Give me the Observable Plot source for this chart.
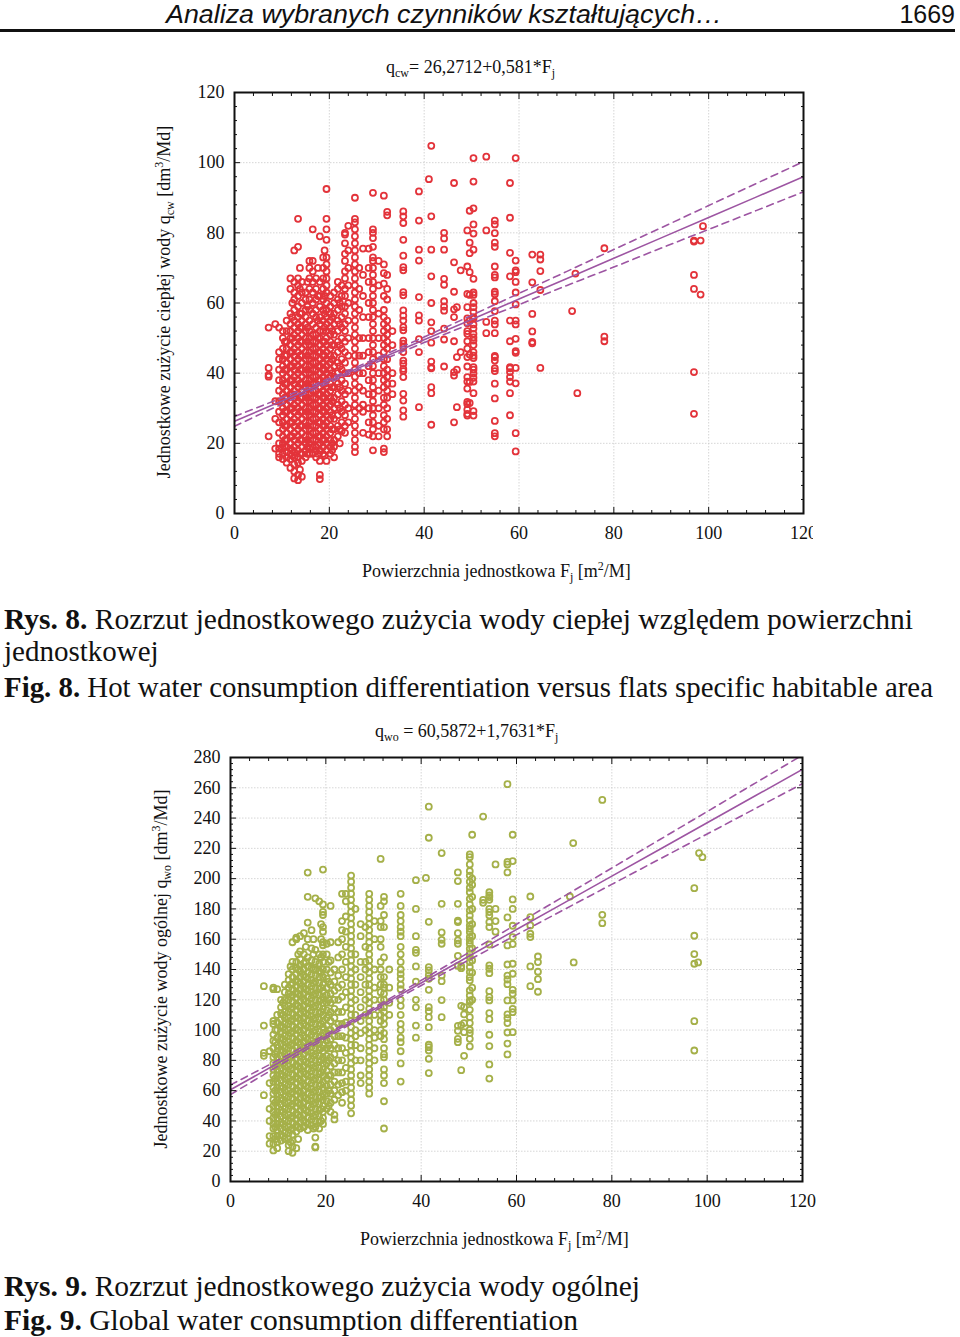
<!DOCTYPE html>
<html>
<head>
<meta charset="utf-8">
<script src="https://cdn.jsdelivr.net/npm/d3@7"></script>
<script src="https://cdn.jsdelivr.net/npm/@observablehq/plot@0.6"></script>
<style>
  html, body { margin: 0; padding: 0; background: #fff; }
  #page { position: relative; width: 960px; height: 1337px; overflow: hidden; background: #fff; }
  .chart { position: absolute; left: 0; }
  #overlay { position: absolute; left: 0; top: 0; pointer-events: none; }
  .serif { font-family: "Liberation Serif", "Times New Roman", serif; fill: #111; }
</style>
</head>
<body>
<div id="page">
  <div id="c1" class="chart" style="top:80px"></div>
  <div id="c2" class="chart" style="top:745px"></div>
  <svg id="overlay" width="960" height="1337" xmlns="http://www.w3.org/2000/svg">
    <text x="166" y="23" font-family="Liberation Sans, Arial, sans-serif" font-style="italic" font-size="25" fill="#111" textLength="556" lengthAdjust="spacingAndGlyphs">Analiza wybranych czynników kształtujących…</text>
    <text x="955" y="23" text-anchor="end" font-family="Liberation Sans, Arial, sans-serif" font-size="25" fill="#111">1669</text>
    <rect x="0" y="29" width="955" height="3" fill="#111"></rect>

    <text class="serif" x="386" y="73" font-size="18">q<tspan dy="4" font-size="12">cw</tspan><tspan dy="-4">= 26,2712+0,581*F</tspan><tspan dy="4" font-size="12">j</tspan></text>
    <text class="serif" x="362" y="577" font-size="18">Powierzchnia jednostkowa F<tspan dy="4" font-size="12">j</tspan><tspan dy="-4"> [m</tspan><tspan dy="-7" font-size="12">2</tspan><tspan dy="7">/M]</tspan></text>
    <text class="serif" transform="translate(170,302) rotate(-90)" text-anchor="middle" font-size="18">Jednostkowe zużycie ciepłej wody q<tspan dy="4" font-size="12">cw</tspan><tspan dy="-4"> [dm</tspan><tspan dy="-7" font-size="12">3</tspan><tspan dy="7">/Md]</tspan></text>

    <text class="serif" x="4" y="629" font-size="29" textLength="909" lengthAdjust="spacingAndGlyphs"><tspan font-weight="bold">Rys. 8.</tspan> Rozrzut jednostkowego zużycia wody ciepłej względem powierzchni</text>
    <text class="serif" x="4" y="661" font-size="29">jednostkowej</text>
    <text class="serif" x="4" y="697" font-size="29" textLength="929" lengthAdjust="spacingAndGlyphs"><tspan font-weight="bold">Fig. 8.</tspan> Hot water consumption differentiation versus flats specific habitable area</text>

    <text class="serif" x="375" y="737" font-size="18">q<tspan dy="4" font-size="12">wo</tspan><tspan dy="-4"> = 60,5872+1,7631*F</tspan><tspan dy="4" font-size="12">j</tspan></text>
    <text class="serif" x="360" y="1245" font-size="18">Powierzchnia jednostkowa F<tspan dy="4" font-size="12">j</tspan><tspan dy="-4"> [m</tspan><tspan dy="-7" font-size="12">2</tspan><tspan dy="7">/M]</tspan></text>
    <text class="serif" transform="translate(167,969) rotate(-90)" text-anchor="middle" font-size="18">Jednostkowe zużycie wody ogólnej q<tspan dy="4" font-size="12">wo</tspan><tspan dy="-4"> [dm</tspan><tspan dy="-7" font-size="12">3</tspan><tspan dy="7">/Md]</tspan></text>

    <text class="serif" x="4" y="1296" font-size="29" textLength="636" lengthAdjust="spacingAndGlyphs"><tspan font-weight="bold">Rys. 9.</tspan> Rozrzut jednostkowego zużycia wody ogólnej</text>
    <text class="serif" x="4" y="1330" font-size="29" textLength="574" lengthAdjust="spacingAndGlyphs"><tspan font-weight="bold">Fig. 9.</tspan> Global water consumption differentiation</text>
  </svg>
</div>
<script>
// ---------- Data: Fig. 8 (hot water) ----------
const hotF = [7.2, 8.6, 9.4, 10.2, 11.0, 11.8, 12.6, 13.4, 14.2, 15.0, 15.8, 16.5, 17.2, 18.0, 18.7, 19.4, 20.2, 21.0, 21.8, 22.6, 23.3, 24.0, 25.4, 26.3, 27.1, 28.3, 29.2, 30.4, 31.5, 32.2, 33.3, 35.6, 38.9, 41.0, 41.5, 44.2, 46.3, 46.9, 47.7, 49.1, 49.6, 50.4, 53.1, 54.9, 58.1, 59.3, 62.8, 64.5, 71.2, 71.9, 72.3, 78.0, 96.9, 98.3, 98.8,
  10.6, 12.2, 13.8, 15.4, 17.6, 19.0, 20.6, 22.2];
const hotQ = [
  [53, 41.5, 39.5, 39, 22],
  [54, 32, 27, 18.5],
  [53, 46, 44, 41, 38, 35, 32, 29, 26, 23, 20, 18.5, 17, 16],
  [52, 50, 47, 44, 42, 40, 38, 36, 34, 32, 30, 28, 26, 24, 22, 20, 18.5, 17, 15.5],
  [55, 52, 49, 47, 45, 43, 41, 39, 37, 35, 33, 31, 29, 27, 25, 23, 21, 19, 17.5, 16, 14.5],
  [67, 64, 57, 54, 52, 50, 48, 46, 44, 42, 40, 38, 36, 34, 32, 30, 28, 26, 24, 22, 20, 18.5, 17, 15.5, 13],
  [75, 66, 63, 61, 58, 55, 53, 51, 49, 47, 45, 43, 41, 39, 37, 35, 33, 31, 29, 27, 25, 23, 21, 19, 17.5, 16, 14, 12, 10],
  [84, 76, 67, 65, 62, 59, 56, 54, 52, 50, 48, 46, 44, 42, 40, 38, 36, 34, 32, 30, 28, 26, 24, 22, 20, 18, 16, 14.5, 11, 9.5],
  [66, 63, 60, 57, 55, 53, 51, 49, 47, 45, 43, 41, 39, 37, 35, 33, 31, 29, 27, 25, 23, 21, 19, 17, 15, 10.5],
  [63, 61, 58, 56, 54, 52, 50, 48, 46, 44, 42, 40, 38, 36, 34, 32, 30, 28, 26, 24, 22, 20, 18, 16],
  [72, 70, 67, 64, 61, 58, 55, 52, 50, 48, 46, 44, 42, 40, 38, 36, 34, 32, 30, 28, 26, 24, 22, 20, 18.5, 17],
  [81, 72, 69, 66, 63, 60, 57, 54, 51, 49, 47, 45, 43, 41, 39, 37, 35, 33, 31, 29, 27, 25, 23, 21, 19, 17],
  [67, 64, 61, 58, 56, 53, 51, 49, 47, 45, 43, 41, 39, 37, 35, 33, 31, 29, 27, 25, 23, 21, 19, 18, 16],
  [79, 66, 62, 59, 56, 54, 52, 50, 48, 46, 44, 42, 40, 38, 36, 34, 32, 30, 28, 26, 24, 22, 20, 18, 15, 11, 9.8],
  [73, 70, 67, 64, 61, 58, 55, 52, 49, 47, 45, 43, 41, 39, 37, 35, 33, 31, 29, 27, 25, 23, 21, 19, 17],
  [92.5, 84, 81, 78, 73, 71, 69, 67, 65, 63, 60, 58, 56, 54, 52, 50, 48, 46, 44, 42, 40, 38, 36, 34, 32, 30, 28, 26, 24, 22, 20, 18, 15],
  [62, 59, 57, 55, 53, 51, 49, 47, 45, 43, 41, 39, 37, 35, 33, 31, 29, 27, 25, 23, 21, 19, 17],
  [63, 60, 57, 54, 51, 48, 45, 42, 39, 36, 33, 30, 27, 24, 21, 19, 16],
  [66, 64, 61, 58, 55, 52, 49, 46, 43, 40, 37, 34, 31, 28, 25, 22],
  [65, 62, 59, 56, 53, 50, 47, 44, 41, 38, 35, 32, 29, 26, 23.5],
  [80, 79.5, 77, 74, 72, 69, 67, 64, 62, 59, 57, 54, 52, 49, 46, 43, 40, 37, 34, 31, 28, 25, 23],
  [82, 75, 70, 65, 60, 55, 50, 45, 40, 35, 30, 26],
  [90, 84, 83, 81, 79, 77, 75, 73, 71, 69, 67, 65, 63, 61, 59, 57, 55, 53, 51, 49, 47, 45, 43, 41, 39, 37, 35, 33, 31, 29, 27, 25, 23, 21, 19, 17.5],
  [70, 64, 58, 50, 45, 40, 36, 30],
  [75.5, 68, 62, 56, 50, 45, 40, 35, 31, 29, 23],
  [75.5, 70, 66, 60, 56, 50, 46, 42, 38, 34, 30, 26, 22.5],
  [91.4, 81, 80, 78.5, 76, 73, 72, 70, 68, 66, 64, 62, 60, 58, 56, 54, 52, 50, 48, 46, 44, 42, 40, 38, 36, 34, 32, 30, 28, 26, 24, 22, 18],
  [72, 65, 57, 50, 45, 40, 35, 30, 25, 22],
  [90.6, 71, 68.5, 65.5, 62, 58, 56, 54, 52, 50, 48, 46, 44, 42, 40, 38, 36, 33, 31, 28, 26, 24, 18.5, 17.5],
  [86, 85, 68, 64, 61, 55, 53, 51, 49, 47, 44, 41, 39, 37, 35, 33, 30, 27, 24, 22],
  [52, 48, 40, 37, 34],
  [86.1, 84.7, 82.8, 78, 73.5, 70.2, 69.3, 63.1, 62.2, 57.9, 56.4, 55, 53.1, 52.2, 49.3, 48.4, 47.4, 46, 43.6, 42.7, 41.2, 40.6, 38.9, 34.1, 32.2, 29.4, 27.6],
  [91.8, 83.5, 75.2, 72.1, 61.7, 56.5, 55, 49.7, 46, 30.3],
  [95.3],
  [104.8, 84.7, 75.2, 67.6, 60, 54.5, 52, 48.7, 43.3, 41.7, 41.4, 36, 34.3, 25.3],
  [80, 78.4, 75.2, 66.9, 65.2, 60.5, 59, 57.8, 52.7, 49.6, 41.9],
  [94.2, 71.6, 63.2, 58.2, 56, 49.1, 40.3, 39.3, 26],
  [58.8, 44.6, 41, 30.3],
  [69.3, 46],
  [80.7, 70.4, 62.6, 58.8, 55.6, 54.2, 52, 51.2, 49.1, 47, 44.6, 41.9, 38.9, 37.6, 35.6, 31.8, 31.2, 29.6, 28.4, 27.9],
  [86.3, 77.2, 74.2, 68.8, 62.3, 55, 45.3, 37.5, 31.5],
  [101.3, 94.6, 87, 82.4, 79.8, 75.2, 66.9, 63, 62.3, 60, 58.8, 57.4, 56, 55.5, 53.9, 52.7, 51.2, 50.2, 49.3, 48, 46, 45, 44.3, 41.7, 41, 39.9, 38.7, 37.6, 34.3, 29.2, 27.9],
  [101.7, 80.7, 54.6, 51.4],
  [83.5, 82.4, 79.9, 77.2, 76, 70.4, 68, 67.3, 63.2, 62.5, 60.5, 57.7, 55, 53.9, 51.4, 44.9, 44.6, 43.6, 41.4, 40.6, 37, 32.8, 26.4, 22.9, 22],
  [94.2, 84.3, 74.3, 67.6, 55, 49.1, 41.7, 41.4, 40.3, 38.9, 37.6, 34.3, 28],
  [101.3, 72.1, 69.3, 68.8, 66, 63, 59.6, 55, 53.9, 49.8, 46.3, 45.8, 41.5, 37.1, 22.9, 17.7],
  [73.8, 65.9, 56.9, 51.9, 48.9, 48.5],
  [73.8, 72.4, 69.1, 63.7, 41.5],
  [57.7],
  [68.4],
  [34.3],
  [75.6, 50.4, 49.1],
  [77.8, 77.5, 68, 64, 40.3, 28.4],
  [77.8, 62.4],
  [81.9],
  [49, 45, 41, 37, 33, 29, 25, 21, 19],
  [60, 56, 50, 46, 42, 38, 34, 30, 26, 22, 18, 16.5],
  [70, 64, 57, 53, 49, 45, 41, 37, 33, 29, 25, 21, 17, 12.5],
  [66, 59, 53, 49, 45, 41, 37, 33, 29, 25, 21, 19, 17],
  [70, 62, 55, 50, 46, 42, 38, 34, 30, 26, 22, 19.5, 17],
  [75, 62, 57, 53, 49, 45, 41, 37, 33, 29, 25, 21, 16.5],
  [56, 52, 48, 44, 40, 36, 32, 28, 24, 20, 18],
  [60, 54, 48, 42, 36, 30, 24, 20]
];
const hotCoef = [26.2712, 0.581];           // q_cw = 26,2712 + 0,581*F_j
const bandF = [0, 10, 20, 28, 40, 50, 60, 70, 80, 90, 100, 110, 120];
const hotBandHalf = [1.4, 0.9, 0.6, 0.55, 0.8, 1.15, 1.6, 2.0, 2.5, 2.9, 3.4, 3.85, 4.3];
const hotYTicks = [0, 20, 40, 60, 80, 100, 120];

// ---------- Data: Fig. 9 (total water) ----------
const totF = [7.0, 8.2, 9.0, 9.8, 10.6, 11.4, 12.2, 13.0, 13.8, 14.6, 15.4, 16.2, 17.0, 17.8, 18.6, 19.4, 20.2, 21.0, 21.8, 22.6, 23.4, 24.2, 25.3, 26.2, 27.3, 28.3, 29.1, 30.2, 31.5, 32.2, 33.3, 35.7, 38.9, 41.0, 41.6, 44.3, 47.7, 48.4, 49.0, 50.2, 50.7, 53.0, 54.3, 55.6, 58.1, 59.2, 62.9, 64.5, 71.2, 71.9, 72.0, 78.0, 97.3, 98.1, 98.3, 99.0,
  9.4, 11.0, 12.6, 14.2, 15.8, 17.4, 19.0, 20.6];
const totQ = [
  [129, 103, 85, 83, 57],
  [86, 65, 48, 40, 30, 25],
  [128, 127, 106, 104, 97, 93, 88, 82, 78, 74, 70, 66, 62, 58, 54, 50, 46, 42, 38, 35, 30, 25, 20.5],
  [127, 110, 105, 100, 95, 90, 86, 82, 78, 74, 70, 66, 62, 58, 54, 50, 46, 42, 38, 34, 30, 26, 22],
  [120, 115, 111, 107, 103, 99, 95, 91, 87, 83, 79, 75, 71, 67, 63, 59, 55, 51, 47, 43, 39, 35, 31, 27],
  [130, 125, 120, 116, 112, 108, 104, 100, 96, 92, 88, 84, 80, 76, 72, 68, 64, 60, 56, 52, 48, 44, 40, 36, 32, 28],
  [137, 133, 128, 124, 120, 116, 112, 108, 104, 100, 96, 92, 88, 84, 80, 76, 72, 68, 64, 60, 56, 52, 48, 44, 40, 36, 32, 28, 24, 20],
  [158, 145, 140, 135, 131, 127, 123, 119, 115, 111, 107, 103, 99, 95, 91, 87, 83, 79, 75, 71, 67, 63, 59, 55, 51, 47, 43, 39, 35, 31, 27, 23, 19],
  [161, 160, 145, 141, 137, 133, 129, 125, 121, 117, 113, 109, 105, 101, 97, 93, 89, 85, 81, 77, 73, 69, 65, 61, 57, 53, 49, 45, 41, 37, 33, 22],
  [162, 152, 147, 143, 139, 135, 131, 127, 123, 119, 115, 111, 107, 103, 99, 95, 91, 87, 83, 79, 75, 71, 67, 63, 59, 55, 51, 47, 43, 39, 35],
  [164, 150, 144, 140, 136, 132, 128, 124, 120, 116, 112, 108, 104, 100, 96, 92, 88, 84, 80, 76, 72, 68, 64, 60, 56, 52, 48, 44, 40, 36],
  [204, 188, 171, 160, 148, 142, 138, 134, 130, 126, 122, 118, 114, 110, 106, 102, 98, 94, 90, 86, 82, 78, 74, 70, 66, 62, 58, 54, 50, 46, 42, 38, 34],
  [166, 154, 146, 141, 137, 133, 129, 125, 121, 117, 113, 109, 105, 101, 97, 93, 89, 85, 81, 77, 73, 69, 65, 61, 57, 53, 49, 45, 41, 37],
  [187, 153, 145, 140, 136, 132, 128, 124, 120, 116, 112, 108, 104, 100, 96, 92, 88, 84, 80, 76, 72, 68, 64, 60, 56, 52, 48, 44, 40, 36, 29, 23, 22.5],
  [185, 150, 144, 139, 135, 131, 127, 123, 119, 115, 111, 107, 103, 99, 95, 91, 87, 83, 79, 75, 71, 67, 63, 59, 55, 51, 47, 43, 39, 35],
  [206, 183, 178, 176, 168, 165, 158, 156, 150, 145, 140, 135, 130, 126, 122, 118, 114, 110, 106, 102, 98, 94, 90, 86, 82, 78, 74, 70, 66, 62, 58, 54, 50, 46, 42, 38],
  [157, 150, 140, 134, 128, 123, 118, 113, 108, 103, 98, 93, 88, 83, 78, 73, 68, 63, 58, 53, 48],
  [182, 158, 146, 138, 130, 124, 118, 112, 106, 100, 94, 88, 82, 76, 70, 64, 58, 52, 46],
  [140, 132, 126, 120, 114, 108, 102, 96, 90, 84, 78, 72, 66, 60, 54, 44, 41],
  [158, 148, 136, 128, 120, 112, 104, 96, 88, 80, 72, 64, 57],
  [190, 172, 166, 160, 150, 140, 130, 122, 112, 104, 96, 88, 80, 72, 65, 59, 52],
  [190, 185, 175, 165, 155, 145, 135, 125, 115, 105, 95, 85, 75, 66, 60],
  [202, 198, 194, 190, 186, 182, 178, 174, 170, 166, 162, 158, 154, 150, 146, 142, 138, 134, 130, 126, 122, 118, 114, 110, 106, 102, 98, 94, 90, 86, 82, 78, 74, 70, 66, 62, 58, 54, 50, 45],
  [180, 150, 140, 130, 120, 110, 100, 96, 90, 80],
  [170, 162, 145, 135, 125, 115, 106, 98, 88, 80, 70, 65],
  [168, 155, 145, 140, 130, 120, 110, 100],
  [190, 186, 182, 178, 174, 170, 166, 162, 158, 154, 150, 146, 142, 138, 134, 130, 126, 122, 118, 114, 110, 106, 102, 98, 94, 90, 86, 82, 78, 74, 70, 66, 62, 58],
  [172, 160, 140, 128, 120, 110, 100, 95, 88, 80],
  [213, 182, 172, 168, 160, 155, 145, 140, 135, 130, 125, 120, 115, 110, 106, 100, 96],
  [188, 185, 176, 168, 148, 135, 130, 128, 124, 120, 115, 112, 108, 104, 98, 94, 88, 84, 82, 74, 70, 65, 53, 35],
  [140, 128, 118, 110],
  [190, 182, 176, 172, 168, 165, 162, 155, 150, 145, 140, 137, 134, 130, 127, 120, 116, 110, 104, 100, 95, 92, 86, 78, 66],
  [199, 180, 162, 153, 151, 142, 132, 120, 115, 103, 95],
  [200.5],
  [247.5, 227, 171.5, 141.6, 139.4, 136.3, 133.9, 126.6, 115.1, 112.5, 108.5, 101.9, 90.3, 88.7, 86.5, 81, 71.6],
  [216.9, 183.4, 164.5, 159.6, 157, 136, 132.3, 119.8, 108.5],
  [204.1, 198.4, 183.4, 172.2, 171.3, 164, 159.2, 157, 149, 142.4, 102.8, 99.5, 94.2, 92],
  [142.2, 140.9, 116, 103.3, 73.5],
  [115.1, 110.3, 104.6, 98.6, 83],
  [216, 214.2, 209.4, 205, 202, 198, 194, 191, 186.7, 183, 179, 175.7, 172.4, 169.1, 166.9, 164.7, 161.4, 159.2, 157, 153.7, 150.4, 148.2, 144.9, 141.6, 138.3, 135, 132.8, 126.2, 122.9, 119.6, 118.5, 113.4, 108.5, 104.6, 100.2, 98, 94.2, 89.2],
  [229, 200, 196, 188, 180, 170, 162, 154, 146, 138, 128, 120],
  [241, 186, 184],
  [191, 188.9, 187.8, 186, 180, 177.9, 175.7, 171.3, 168, 156.5, 142.7, 140.5, 137.6, 125.7, 121.8, 119.6, 111.2, 107.2, 96.9, 89.4, 77.3, 68],
  [209.4, 180, 172, 165],
  [262.4, 209.4, 211.1, 204.1, 174.4, 155.9, 143.3, 136, 133.4, 130.3, 119.6, 110.3, 107.9, 104.6, 98.4, 91.1, 83.9],
  [229, 211.6, 186.3, 180, 168.9, 161.4, 156.8, 143.8, 137.2, 126.6, 124, 119.6, 114, 111.8, 98.6],
  [188.2, 174.6, 169.1, 163.6, 161.4, 142, 129],
  [148.6, 144.9, 138.5, 133.6, 125.3],
  [188.2],
  [223.5],
  [144.7],
  [252, 176.1, 170.6],
  [193.7, 162.3, 150.2, 143.8, 105.9, 86.5],
  [144.7],
  [216.9],
  [214.2],
  [100, 92, 84, 76, 68, 60, 52, 44, 36, 28],
  [118, 110, 102, 94, 86, 78, 70, 62, 54, 46, 38, 30],
  [142, 130, 122, 114, 106, 98, 90, 82, 74, 66, 58, 50, 42, 34, 26],
  [150, 140, 132, 124, 116, 108, 100, 92, 84, 76, 68, 60, 52, 44, 36, 28],
  [155, 145, 135, 127, 119, 111, 103, 95, 87, 79, 71, 63, 55, 47, 39],
  [160, 150, 140, 131, 123, 115, 107, 99, 91, 83, 75, 67, 59, 51, 43, 35],
  [170, 160, 148, 138, 128, 120, 112, 104, 96, 88, 80, 72, 64, 56, 48, 40],
  [145, 132, 120, 110, 100, 90, 80, 70, 60, 50]
];
const totCoef = [60.5872, 1.7631];           // q_wo = 60,5872 + 1,7631*F_j
const totBandHalf = [3.2, 2.0, 1.3, 1.2, 1.7, 2.5, 3.5, 4.4, 5.4, 6.4, 7.4, 8.4, 9.4];
const totYTicks = [0, 20, 40, 60, 80, 100, 120, 140, 160, 180, 200, 220, 240, 260, 280];

const xTicks = [0, 20, 40, 60, 80, 100, 120];

const purple = "#9d55a2";
const fontStyle = {fontFamily: "'Liberation Serif', 'Times New Roman', serif", fontSize: "18px", color: "#111", background: "transparent", overflow: "hidden"};

function makeChart({F, Q, coef, half, yTicks, color, width, height, mL, mR, mT, mB}) {
  const yMax = yTicks[yTicks.length - 1];
  const pts = [];
  F.forEach((f, i) => Q[i].forEach(q => pts.push({f, q})));
  const fit = bandF.map((f, i) => {
    const q = coef[0] + coef[1] * f;
    return {f, q, lo: q - half[i], hi: q + half[i]};
  });
  const minorX = d3.range(0, 121, 4).filter(v => v % 20 !== 0);
  const minorY = d3.range(0, yMax + 1, 4).filter(v => v % 20 !== 0);
  const blank = () => "";
  return Plot.plot({
    width, height,
    marginLeft: mL, marginRight: mR, marginTop: mT, marginBottom: mB,
    style: fontStyle,
    x: {domain: [0, 120]},
    y: {domain: [0, yMax]},
    marks: [
      Plot.gridX({ticks: xTicks, stroke: "#cccccc", strokeOpacity: 1, strokeWidth: 0.8, strokeDasharray: "1.5,1.5"}),
      Plot.gridY({ticks: yTicks, stroke: "#cccccc", strokeOpacity: 1, strokeWidth: 0.8, strokeDasharray: "1.5,1.5"}),
      Plot.dot(pts, {x: "f", y: "q", r: 3, stroke: color, strokeWidth: 1.8, fill: "none", clip: true}),
      Plot.line(fit, {x: "f", y: "q", stroke: purple, strokeWidth: 1.6, clip: true}),
      Plot.line(fit, {x: "f", y: "hi", stroke: purple, strokeWidth: 1.6, strokeDasharray: "7,5", curve: "natural", clip: true}),
      Plot.line(fit, {x: "f", y: "lo", stroke: purple, strokeWidth: 1.6, strokeDasharray: "7,5", curve: "natural", clip: true}),
      Plot.axisX({ticks: xTicks, anchor: "bottom", tickSize: 0, tickPadding: 13, label: null, fontSize: 18}),
      Plot.axisY({ticks: yTicks, anchor: "left", tickSize: 0, tickPadding: 10, label: null, fontSize: 18}),
      Plot.axisX({ticks: xTicks, anchor: "bottom", tickSize: -6, tickFormat: blank, label: null}),
      Plot.axisX({ticks: xTicks, anchor: "top", tickSize: -6, tickFormat: blank, label: null}),
      Plot.axisY({ticks: yTicks, anchor: "left", tickSize: -6, tickFormat: blank, label: null}),
      Plot.axisY({ticks: yTicks, anchor: "right", tickSize: -6, tickFormat: blank, label: null}),
      Plot.axisX({ticks: minorX, anchor: "bottom", tickSize: -3, tickFormat: blank, label: null}),
      Plot.axisX({ticks: minorX, anchor: "top", tickSize: -3, tickFormat: blank, label: null}),
      Plot.axisY({ticks: minorY, anchor: "left", tickSize: -3, tickFormat: blank, label: null}),
      Plot.axisY({ticks: minorY, anchor: "right", tickSize: -3, tickFormat: blank, label: null}),
      Plot.frame({stroke: "#111", strokeWidth: 2})
    ]
  });
}

document.getElementById("c1").append(makeChart({
  F: hotF, Q: hotQ, coef: hotCoef, half: hotBandHalf, yTicks: hotYTicks, color: "#e3333a",
  width: 813, height: 480, mL: 234, mR: 10, mT: 12, mB: 47
}));
document.getElementById("c2").append(makeChart({
  F: totF, Q: totQ, coef: totCoef, half: totBandHalf, yTicks: totYTicks, color: "#a5b049",
  width: 960, height: 480, mL: 230, mR: 158, mT: 12, mB: 44
}));
</script>
</body>
</html>
